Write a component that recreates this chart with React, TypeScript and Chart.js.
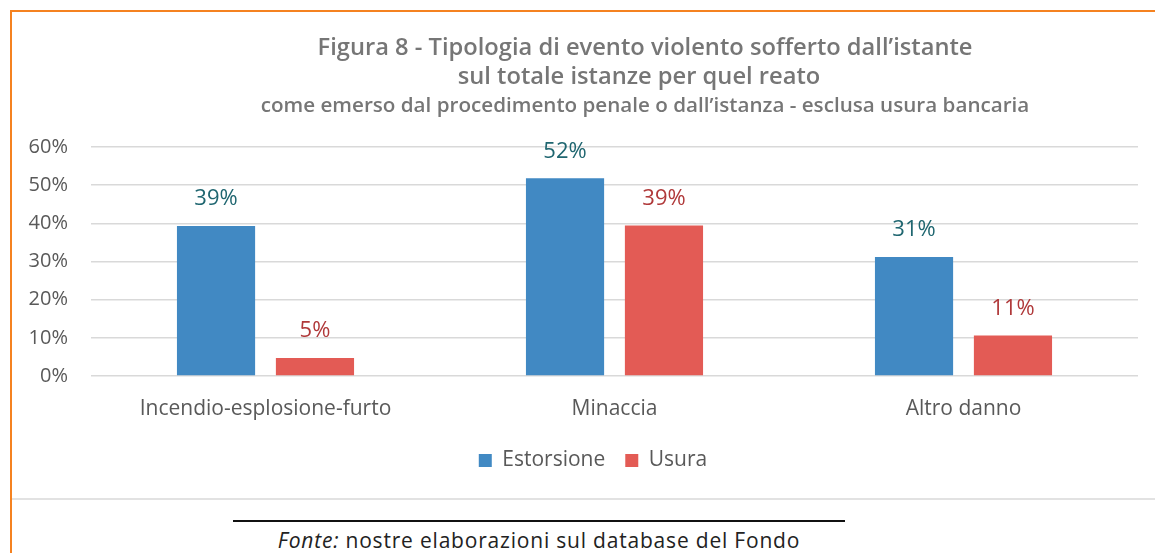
import React, { useEffect, useRef } from "react";
import { Chart, registerables } from "chart.js";

Chart.register(...registerables);

const categories = ["Incendio-esplosione-furto", "Minaccia", "Altro danno"];
const seriesNames = ["Estorsione", "Usura"];
const estorsioneValues = [39.3, 51.8, 31.2];
const usuraValues = [4.7, 39.4, 10.6];
const yTicks = [0, 10, 20, 30, 40, 50, 60];
const titleLines = [
  "Figura 8 - Tipologia di evento violento sofferto dall\u2019istante",
  "sul totale istanze per quel reato",
];
const subtitleText =
  "come emerso dal procedimento penale o dall\u2019istanza - esclusa usura bancaria";

const barColors = ["#4189C3", "#E35B55"];
const labelColors = ["#1F6670", "#B0393A"];
const FONT = "'Open Sans', 'Noto Sans', sans-serif";
const TITLE_FONT = "'Open Sans', 'Noto Sans', sans-serif";

function fitSize(ctx: any, text: string, weight: string, target: number) {
  ctx.font = `${weight} 20px ${TITLE_FONT}`;
  const w = ctx.measureText(text).width;
  return (20 * target) / w;
}

const titlePlugin = {
  id: "customTitle",
  afterDraw(chart: any) {
    const ctx = chart.ctx;
    ctx.save();
    ctx.fillStyle = "#767676";
    ctx.textAlign = "center";
    ctx.textBaseline = "middle";
    const s1 = fitSize(ctx, titleLines[0], "600", 655);
    ctx.font = `600 ${s1}px ${TITLE_FONT}`;
    ctx.fillText(titleLines[0], 633, 36);
    ctx.fillText(titleLines[1], 627, 65);
    const s2 = fitSize(ctx, subtitleText, "600", 769);
    ctx.font = `600 ${s2}px ${TITLE_FONT}`;
    ctx.fillText(subtitleText, 633, 94);
    ctx.restore();
  },
};

const valueLabelPlugin = {
  id: "valueLabels",
  afterDatasetsDraw(chart: any) {
    const ctx = chart.ctx;
    ctx.save();
    ctx.textAlign = "center";
    ctx.textBaseline = "middle";
    ctx.font = `22px ${FONT}`;
    chart.data.datasets.forEach((ds: any, di: number) => {
      const meta = chart.getDatasetMeta(di);
      ctx.fillStyle = labelColors[di];
      meta.data.forEach((el: any, i: number) => {
        const v = ds.data[i];
        ctx.fillText(Math.round(v) + "%", el.x, el.y - 27);
      });
    });
    ctx.restore();
  },
};

export default function App() {
  const canvasRef = useRef<HTMLCanvasElement | null>(null);

  useEffect(() => {
    if (!canvasRef.current) return;
    const chart = new Chart(canvasRef.current, {
      type: "bar",
      data: {
        labels: categories,
        datasets: [
          {
            label: seriesNames[0],
            data: estorsioneValues,
            backgroundColor: barColors[0],
            borderWidth: 0,
            categoryPercentage: 0.567,
            barPercentage: 0.79,
          },
          {
            label: seriesNames[1],
            data: usuraValues,
            backgroundColor: barColors[1],
            borderWidth: 0,
            categoryPercentage: 0.567,
            barPercentage: 0.79,
          },
        ],
      },
      options: {
        responsive: false,
        animation: false,
        devicePixelRatio: 1,
        layout: { padding: { left: 0, right: 0, top: 135, bottom: 16 } },
        plugins: {
          title: { display: false },
          tooltip: { enabled: false },
          legend: {
            position: "bottom",
            labels: {
              boxWidth: 13,
              boxHeight: 13,
              padding: 20,
              color: "#595959",
              font: { family: FONT, size: 21 },
            },
          },
        },
        scales: {
          x: {
            grid: { display: false, drawTicks: false },
            border: { display: false },
            ticks: {
              color: "#595959",
              font: { family: FONT, size: 21 },
              padding: 20,
            },
            afterFit(scale: any) {
              scale.height = 54;
            },
          },
          y: {
            min: 0,
            max: 60,
            grid: { color: "#d9d9d9", lineWidth: 1.5, drawTicks: false },
            border: { display: false },
            afterBuildTicks(scale: any) {
              scale.ticks = yTicks.map((v) => ({ value: v }));
            },
            ticks: {
              color: "#595959",
              font: { family: FONT, size: 20 },
              padding: 23,
              callback: (v: any) => v + "%",
            },
            afterFit(scale: any) {
              scale.width = 79;
            },
          },
          yRight: {
            position: "right",
            display: true,
            grid: { display: false, drawTicks: false },
            border: { display: false },
            ticks: { display: false },
            afterFit(scale: any) {
              scale.width = 36;
            },
          },
        },
      },
      plugins: [titlePlugin, valueLabelPlugin],
    });
    return () => chart.destroy();
  }, []);

  return (
    <div
      style={{
        position: "fixed",
        left: 0,
        top: 0,
        width: 1155,
        height: 553,
        background: "#ffffff",
        overflow: "hidden",
      }}
    >
      <div
        style={{
          position: "absolute",
          left: 10,
          top: 10,
          width: 1160,
          height: 560,
          borderTop: "2px solid #F58220",
          borderLeft: "2px solid #F58220",
          boxSizing: "border-box",
        }}
      />
      <canvas
        ref={canvasRef}
        width={1162}
        height={485}
        style={{ position: "absolute", left: 12, top: 12, width: 1162, height: 485 }}
      />
      <div
        style={{
          position: "absolute",
          left: 12,
          top: 498,
          width: 1143,
          height: 2,
          background: "#e2e2e2",
        }}
      />
      <div
        style={{
          position: "absolute",
          left: 233,
          top: 520,
          width: 612,
          height: 2,
          background: "#111111",
        }}
      />
      <div
        style={{
          position: "absolute",
          left: 0,
          top: 526,
          width: 1078,
          textAlign: "center",
          fontFamily: TITLE_FONT,
          fontSize: 21,
          letterSpacing: "0.8px",
          lineHeight: "28px",
          color: "#222222",
        }}
      >
        <i>Fonte:</i> nostre elaborazioni sul database del Fondo
      </div>
    </div>
  );
}
